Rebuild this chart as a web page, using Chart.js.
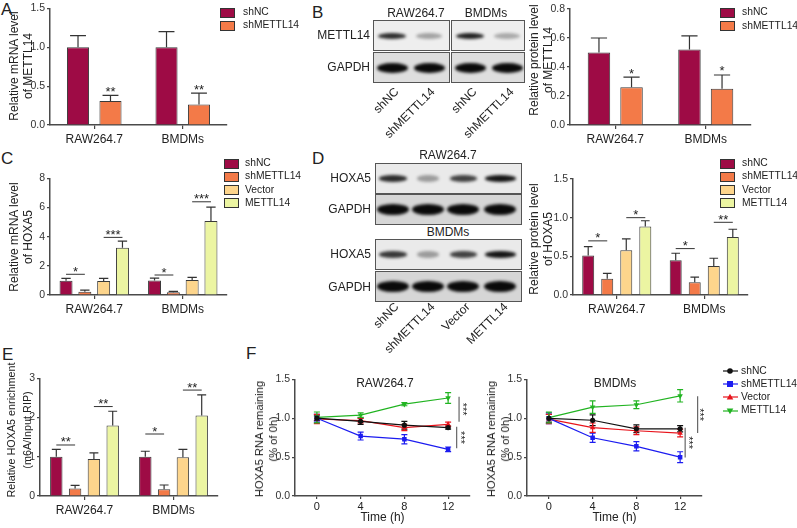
<!DOCTYPE html>
<html><head><meta charset="utf-8">
<script src="https://cdn.jsdelivr.net/npm/chart.js@4.4.1/dist/chart.umd.min.js"></script>
<style>
html,body{margin:0;padding:0;background:#fff;}
#root{position:relative;width:797px;height:528px;overflow:hidden;font-family:"Liberation Sans",Arial,sans-serif;color:#222;}
canvas{position:absolute;}
.t{position:absolute;white-space:nowrap;}
.letter{position:absolute;font-size:17px;line-height:17px;}
.ytitle{position:absolute;font-size:12px;line-height:14px;text-align:center;white-space:nowrap;transform:translate(-50%,-50%) rotate(-90deg);}
.leg{position:absolute;font-size:10.3px;line-height:12px;white-space:nowrap;}
.sq{position:absolute;width:13px;height:8px;border:1px solid #333;}
.box{position:absolute;border:1px solid #555;overflow:hidden;}
.band{position:absolute;border-radius:50%;filter:blur(1.4px);}
.rot{position:absolute;font-size:12px;line-height:13px;white-space:nowrap;transform-origin:0 0;transform:rotate(-45deg) translate(-100%,-50%);}
.lbl{position:absolute;font-size:12px;line-height:14px;white-space:nowrap;}
</style></head><body><div id="root"></div>
<script>
// ---------- DATA ----------
const categories = ['RAW264.7', 'BMDMs'];
const groupNames = ['shNC', 'shMETTL14', 'Vector', 'METTL14'];
// Panel A: relative mRNA level of METTL14
const aShNC = [1.0, 1.0];
const aShNCErr = [0.15, 0.20];
const aShMETTL14 = [0.31, 0.265];
const aShMETTL14Err = [0.07, 0.145];
// Panel B: relative protein level of METTL14
const bShNC = [0.50, 0.52];
const bShNCErr = [0.10, 0.095];
const bShMETTL14 = [0.26, 0.25];
const bShMETTL14Err = [0.07, 0.095];
// Panel C: relative mRNA level of HOXA5
const cShNC = [0.98, 1.0];
const cShNCErr = [0.16, 0.15];
const cShMETTL14 = [0.23, 0.18];
const cShMETTL14Err = [0.11, 0.07];
const cVector = [0.96, 1.03];
const cVectorErr = [0.18, 0.18];
const cMETTL14 = [3.24, 5.07];
const cMETTL14Err = [0.46, 0.95];
// Panel D: relative protein level of HOXA5
const dShNC = [0.51, 0.45];
const dShNCErr = [0.115, 0.09];
const dShMETTL14 = [0.21, 0.165];
const dShMETTL14Err = [0.07, 0.065];
const dVector = [0.58, 0.375];
const dVectorErr = [0.145, 0.10];
const dMETTL14 = [0.885, 0.75];
const dMETTL14Err = [0.075, 0.10];
// Panel E: relative HOXA5 enrichment
const eShNC = [1.0, 1.0];
const eShNCErr = [0.19, 0.14];
const eShMETTL14 = [0.19, 0.17];
const eShMETTL14Err = [0.08, 0.11];
const eVector = [0.94, 0.99];
const eVectorErr = [0.16, 0.20];
const eMETTL14 = [1.80, 2.05];
const eMETTL14Err = [0.36, 0.53];
// Panel F: HOXA5 RNA remaining
const timePoints = [0, 4, 8, 12];
const timeTicks = [0, 4, 8, 12];
const fRawShNC = [1.0, 0.96, 0.91, 0.88];
const fRawShNCErr = [0.03, 0.04, 0.05, 0.02];
const fRawShMETTL14 = [1.0, 0.77, 0.73, 0.60];
const fRawShMETTL14Err = [0.05, 0.05, 0.06, 0.03];
const fRawVector = [0.99, 0.97, 0.88, 0.92];
const fRawVectorErr = [0.06, 0.03, 0.04, 0.03];
const fRawMETTL14 = [1.01, 1.04, 1.18, 1.26];
const fRawMETTL14Err = [0.07, 0.03, 0.02, 0.07];
const fBmShNC = [1.0, 0.975, 0.865, 0.865];
const fBmShNCErr = [0.05, 0.07, 0.05, 0.04];
const fBmShMETTL14 = [1.0, 0.75, 0.64, 0.50];
const fBmShMETTL14Err = [0.07, 0.06, 0.06, 0.07];
const fBmVector = [0.99, 0.88, 0.84, 0.81];
const fBmVectorErr = [0.06, 0.06, 0.05, 0.05];
const fBmMETTL14 = [1.01, 1.145, 1.175, 1.29];
const fBmMETTL14Err = [0.07, 0.08, 0.05, 0.08];
// Western blot band intensities (0..1)
const bBlotMETTL14 = [0.85, 0.33, 0.9, 0.3];
const bBlotGAPDH = [1, 1, 1, 1];
const dBlotRawHOXA5 = [0.85, 0.35, 0.75, 0.95];
const dBlotBmHOXA5 = [0.8, 0.35, 0.75, 0.95];
const dBlotGAPDH = [1, 1, 1, 1];

// ---------- STYLE ----------
const FONT = '"Liberation Sans", Arial, sans-serif';
const barColors = ['#9e0b45', '#f37a48', '#fdd58c', '#ecf5a2'];
const lineColors = ['#111111', '#1c1cf0', '#e8141c', '#22b422'];
Chart.defaults.font.family = FONT;
const root = document.getElementById('root');

const errPlugin = {
  id: 'errbars',
  beforeDatasetsDraw(chart) { if (chart.config.type === 'line') drawErr(chart, true); },
  afterDatasetsDraw(chart) { if (chart.config.type === 'bar') drawErr(chart, false); }
};
function drawErr(chart, both) {
  const ctx = chart.ctx, ys = chart.scales.y;
  chart.data.datasets.forEach((ds, di) => {
    if (!ds.errors) return;
    const meta = chart.getDatasetMeta(di);
    meta.data.forEach((el, i) => {
      const raw = ds.data[i];
      const v = typeof raw === 'object' ? raw.y : raw;
      const e = ds.errors[i];
      const x = el.x;
      const yTop = ys.getPixelForValue(v + e);
      const yBot = both ? ys.getPixelForValue(v - e) : el.y;
      const cw = both ? 6 : el.width * 0.72;
      ctx.save();
      ctx.strokeStyle = ds.errColor || '#333';
      ctx.lineWidth = 1.2;
      ctx.beginPath();
      ctx.moveTo(x, yBot); ctx.lineTo(x, yTop);
      ctx.moveTo(x - cw / 2, yTop); ctx.lineTo(x + cw / 2, yTop);
      if (both) { ctx.moveTo(x - cw / 2, yBot); ctx.lineTo(x + cw / 2, yBot); }
      ctx.stroke();
      ctx.restore();
    });
  });
}
const sigPlugin = {
  id: 'sig',
  afterDraw(chart, args, opts) {
    const items = opts.items || [];
    const ctx = chart.ctx, ys = chart.scales.y, xs = chart.scales.x;
    ctx.save();
    items.forEach(it => {
      if (it.kind === 'br') {
        const x1 = chart.getDatasetMeta(it.a).data[it.cat].x;
        const x2 = chart.getDatasetMeta(it.b).data[it.cat].x;
        const y = ys.getPixelForValue(it.y);
        ctx.strokeStyle = '#333'; ctx.lineWidth = 1;
        ctx.beginPath(); ctx.moveTo(x1, y); ctx.lineTo(x2, y); ctx.stroke();
        ctx.font = '13px ' + FONT; ctx.fillStyle = '#222'; ctx.textAlign = 'center'; ctx.textBaseline = 'alphabetic';
        ctx.fillText(it.text, (x1 + x2) / 2, y + 1.5);
      } else if (it.kind === 'over') {
        const ds = chart.data.datasets[it.ds];
        const el = chart.getDatasetMeta(it.ds).data[it.cat];
        const y = ys.getPixelForValue(ds.data[it.cat] + ds.errors[it.cat]);
        ctx.font = '13px ' + FONT; ctx.fillStyle = '#222'; ctx.textAlign = 'center'; ctx.textBaseline = 'alphabetic';
        ctx.fillText(it.text, el.x, y + 0.5);
      } else if (it.kind === 'v') {
        const x = xs.getPixelForValue(it.x);
        const y1 = ys.getPixelForValue(it.y1), y2 = ys.getPixelForValue(it.y2);
        ctx.strokeStyle = '#666'; ctx.lineWidth = 1.2;
        ctx.beginPath(); ctx.moveTo(x, y1); ctx.lineTo(x, y2); ctx.stroke();
        const tx = xs.getPixelForValue(it.tx);
        ctx.translate(tx, (y1 + y2) / 2); ctx.rotate(Math.PI / 2);
        ctx.font = '11px ' + FONT; ctx.fillStyle = '#222'; ctx.textAlign = 'center'; ctx.textBaseline = 'alphabetic';
        ctx.fillText(it.text, 0, 6.3);
        ctx.setTransform(1, 0, 0, 1, 0, 0);
      }
    });
    ctx.restore();
  }
};

function mkCanvas(left, top, w, h) {
  const cv = document.createElement('canvas');
  cv.width = w; cv.height = h;
  cv.style.left = left + 'px'; cv.style.top = top + 'px';
  cv.style.width = w + 'px'; cv.style.height = h + 'px';
  root.appendChild(cv);
  return cv;
}
function axisY(o) {
  return {
    min: 0, max: o.yMax,
    ticks: { stepSize: o.yStep, font: { size: 10.5, family: FONT }, color: '#333', padding: 2, callback: v => Number(v).toFixed(o.dec) },
    grid: { drawOnChartArea: false, tickLength: 3, color: '#444', lineWidth: 1.2 },
    border: { color: '#4a4a4a', width: 1.5 },
    afterFit: s => { s.width = o.yW; }
  };
}
function barChart(o) {
  const cv = mkCanvas(o.left, o.top, o.w, o.h);
  return new Chart(cv, {
    type: 'bar',
    data: {
      labels: categories,
      datasets: o.series.map((s, i) => ({
        label: groupNames[i], data: s.data, errors: s.err,
        backgroundColor: barColors[i], borderColor: '#3a3a3a', borderWidth: 1,
        categoryPercentage: o.catPct, barPercentage: o.barPct
      }))
    },
    options: {
      responsive: false, animation: false, devicePixelRatio: 1,
      layout: { padding: { top: o.padTop, right: o.padRight, left: 0, bottom: 0 } },
      plugins: { legend: { display: false }, tooltip: { enabled: false }, sig: { items: o.sig } },
      scales: {
        x: {
          type: 'category', offset: true,
          grid: { offset: false, drawOnChartArea: false, tickLength: 4, color: '#444', lineWidth: 1.2 },
          border: { color: '#4a4a4a', width: 1.5 },
          ticks: { font: { size: 12, family: FONT }, color: '#222', padding: 3, maxRotation: 0 },
          afterFit: s => { s.height = o.xH; }
        },
        y: axisY(o)
      }
    },
    plugins: [errPlugin, sigPlugin]
  });
}
const pointStyles = ['circle', 'rect', 'triangle', 'triangle'];
const pointRots = [0, 0, 0, 180];
function lineChart(o) {
  const cv = mkCanvas(o.left, o.top, o.w, o.h);
  return new Chart(cv, {
    type: 'line',
    data: {
      datasets: o.series.map((s, i) => ({
        label: groupNames[i],
        data: timePoints.map((t, k) => ({ x: t, y: s.data[k] })),
        errors: s.err, errColor: lineColors[i],
        borderColor: lineColors[i], backgroundColor: lineColors[i], borderWidth: 1.2,
        pointStyle: pointStyles[i], pointRotation: pointRots[i], pointRadius: i === 0 ? 2.6 : 3.2,
        pointBorderWidth: 0, tension: 0, fill: false
      }))
    },
    options: {
      responsive: false, animation: false, devicePixelRatio: 1,
      layout: { padding: { top: o.padTop, right: o.padRight, left: 0, bottom: 0 } },
      plugins: { legend: { display: false }, tooltip: { enabled: false }, sig: { items: o.sig } },
      scales: {
        x: {
          type: 'linear', min: -2, max: 14,
          afterBuildTicks: s => { s.ticks = timeTicks.map(v => ({ value: v })); },
          grid: { drawOnChartArea: false, tickLength: 3, color: '#444', lineWidth: 1.2 },
          border: { color: '#4a4a4a', width: 1.5 },
          ticks: { font: { size: 11, family: FONT }, color: '#222', padding: 1, maxRotation: 0 },
          afterFit: s => { s.height = o.xH; }
        },
        y: axisY(o)
      }
    },
    plugins: [errPlugin, sigPlugin]
  });
}

// ---------- CHARTS ----------
barChart({ left: 20, top: 0, w: 210, h: 150, padTop: 8, padRight: 3, yW: 30, xH: 25, yMax: 1.5, yStep: 0.5, dec: 1,
  catPct: 0.734, barPct: 0.68,
  series: [{ data: aShNC, err: aShNCErr }, { data: aShMETTL14, err: aShMETTL14Err }],
  sig: [{ kind: 'over', ds: 1, cat: 0, text: '**' }, { kind: 'over', ds: 1, cat: 1, text: '**' }] });
barChart({ left: 540, top: 0, w: 215, h: 150, padTop: 9, padRight: 4, yW: 30, xH: 25, yMax: 0.8, yStep: 0.2, dec: 1,
  catPct: 0.72, barPct: 0.69,
  series: [{ data: bShNC, err: bShNCErr }, { data: bShMETTL14, err: bShMETTL14Err }],
  sig: [{ kind: 'over', ds: 1, cat: 0, text: '*' }, { kind: 'over', ds: 1, cat: 1, text: '*' }] });
barChart({ left: 20, top: 170, w: 210, h: 150, padTop: 8, padRight: 3, yW: 30, xH: 25, yMax: 8, yStep: 2, dec: 0,
  catPct: 0.85, barPct: 0.69,
  series: [{ data: cShNC, err: cShNCErr }, { data: cShMETTL14, err: cShMETTL14Err }, { data: cVector, err: cVectorErr }, { data: cMETTL14, err: cMETTL14Err }],
  sig: [{ kind: 'br', a: 0, b: 1, cat: 0, y: 1.42, text: '*' }, { kind: 'br', a: 2, b: 3, cat: 0, y: 3.95, text: '***' },
        { kind: 'br', a: 0, b: 1, cat: 1, y: 1.37, text: '*' }, { kind: 'br', a: 2, b: 3, cat: 1, y: 6.39, text: '***' }] });
barChart({ left: 543, top: 170, w: 209, h: 150, padTop: 9, padRight: 4, yW: 30, xH: 25, yMax: 1.5, yStep: 0.5, dec: 1,
  catPct: 0.87, barPct: 0.63,
  series: [{ data: dShNC, err: dShNCErr }, { data: dShMETTL14, err: dShMETTL14Err }, { data: dVector, err: dVectorErr }, { data: dMETTL14, err: dMETTL14Err }],
  sig: [{ kind: 'br', a: 0, b: 1, cat: 0, y: 0.70, text: '*' }, { kind: 'br', a: 2, b: 3, cat: 0, y: 1.0, text: '*' },
        { kind: 'br', a: 0, b: 1, cat: 1, y: 0.60, text: '*' }, { kind: 'br', a: 2, b: 3, cat: 1, y: 0.94, text: '**' }] });
barChart({ left: 10, top: 370, w: 212, h: 151, padTop: 8, padRight: 4, yW: 30, xH: 25, yMax: 3, yStep: 1, dec: 0,
  catPct: 0.845, barPct: 0.66,
  series: [{ data: eShNC, err: eShNCErr }, { data: eShMETTL14, err: eShMETTL14Err }, { data: eVector, err: eVectorErr }, { data: eMETTL14, err: eMETTL14Err }],
  sig: [{ kind: 'br', a: 0, b: 1, cat: 0, y: 1.30, text: '**' }, { kind: 'br', a: 2, b: 3, cat: 0, y: 2.28, text: '**' },
        { kind: 'br', a: 0, b: 1, cat: 1, y: 1.58, text: '*' }, { kind: 'br', a: 2, b: 3, cat: 1, y: 2.70, text: '**' }] });
lineChart({ left: 265, top: 371, w: 209, h: 150, padTop: 8, padRight: 4, yW: 30, xH: 25, yMax: 1.5, yStep: 0.5, dec: 1,
  series: [{ data: fRawShNC, err: fRawShNCErr }, { data: fRawShMETTL14, err: fRawShMETTL14Err }, { data: fRawVector, err: fRawVectorErr }, { data: fRawMETTL14, err: fRawMETTL14Err }],
  sig: [{ kind: 'v', x: 13.0, y1: 1.276, y2: 0.955, tx: 13.6, text: '***' }, { kind: 'v', x: 12.78, y1: 0.89, y2: 0.613, tx: 13.35, text: '***' }] });
lineChart({ left: 497, top: 371, w: 209, h: 150, padTop: 8.5, padRight: 4, yW: 30, xH: 25, yMax: 1.5, yStep: 0.5, dec: 1,
  series: [{ data: fBmShNC, err: fBmShNCErr }, { data: fBmShMETTL14, err: fBmShMETTL14Err }, { data: fBmVector, err: fBmVectorErr }, { data: fBmMETTL14, err: fBmMETTL14Err }],
  sig: [{ kind: 'v', x: 13.6, y1: 1.285, y2: 0.81, tx: 14.05, text: '***' }, { kind: 'v', x: 12.46, y1: 0.88, y2: 0.495, tx: 13.0, text: '***' }] });

// ---------- HTML TEXT / DECOR ----------
function el(cls, html, css) {
  const d = document.createElement('div');
  d.className = cls; d.innerHTML = html;
  Object.assign(d.style, css);
  root.appendChild(d);
  return d;
}
function letter(ch, x, y) { el('letter', ch, { left: x + 'px', top: y + 'px' }); }
function ytitle(lines, cx, cy, lh, fs) { el('ytitle', lines.join('<br>'), { left: cx + 'px', top: cy + 'px', lineHeight: (lh || 14) + 'px', fontSize: (fs || 12) + 'px' }); }
function centered(text, cx, cy, size) {
  el('lbl', text, { left: cx + 'px', top: cy + 'px', transform: 'translate(-50%,-50%)', fontSize: (size || 12) + 'px' });
}
function rightLabel(text, rx, cy) {
  el('lbl', text, { left: rx + 'px', top: cy + 'px', transform: 'translate(-100%,-50%)' });
}
function rotLabel(text, ex, ey) { el('rot', text, { left: ex + 'px', top: ey + 'px' }); }
function sqLegend(sqX, textX, ys, n) {
  for (let i = 0; i < n; i++) {
    el('sq', '', { left: sqX + 'px', top: (ys[i] - 5) + 'px', background: barColors[i] });
    el('leg', groupNames[i], { left: textX + 'px', top: (ys[i] - 6.5) + 'px' });
  }
}
function blotRow(left, top, w, h, bg, lanes, intens, bw, bh) {
  const b = el('box', '', { left: left + 'px', top: top + 'px', width: w + 'px', height: h + 'px', background: bg });
  lanes.forEach((cx, i) => {
    const d = document.createElement('div');
    d.className = 'band';
    const ww = Array.isArray(bw) ? bw[i] : bw;
    Object.assign(d.style, { left: (cx - left - ww / 2) + 'px', top: (h / 2 - bh / 2) + 'px', width: ww + 'px', height: bh + 'px', background: 'rgba(10,10,10,' + intens[i] + ')' });
    b.appendChild(d);
  });
}

letter('A', 1, 1); letter('B', 312, 4); letter('C', 1, 150); letter('D', 312, 150); letter('E', 2, 346); letter('F', 246, 345);

ytitle(['Relative mRNA level', 'of METTL14'], 20.5, 66);
ytitle(['Relative protein level', 'of METTL14'], 540.5, 60);
ytitle(['Relative mRNA level', 'of HOXA5'], 20.5, 237);
ytitle(['Relative protein level', 'of HOXA5'], 540.5, 239);
ytitle(['Relative HOXA5 enrichment', '(m6A/Input RIP)'], 19, 430, 16, 10.8);
ytitle(['HOXA5 RNA remaining', '(% of 0h)'], 266, 438.5, 14, 11.2);
ytitle(['HOXA5 RNA remaining', '(% of 0h)'], 498, 438.5, 14, 11.2);

sqLegend(220, 243, [12.5, 25.5], 2);
sqLegend(720, 742, [12.5, 26], 2);
sqLegend(224, 245, [163.5, 176.5, 190, 203], 4);
sqLegend(720, 742, [163.5, 176.5, 190, 203], 4);

// F titles and x-axis titles
centered('RAW264.7', 385, 383);
centered('BMDMs', 615, 383);
centered('Time (h)', 382.5, 517);
centered('Time (h)', 614.5, 517);

// F legend
const svgMarkers = [
  '<circle cx="7" cy="5" r="2.8" fill="#111"/>',
  '<rect x="4" y="2" width="6" height="6" fill="#1c1cf0"/>',
  '<polygon points="7,1.8 10.3,7.6 3.7,7.6" fill="#e8141c"/>',
  '<polygon points="7,8.2 10.3,2.4 3.7,2.4" fill="#22b422"/>'
];
[371, 384, 397.3, 410.7].forEach((y, i) => {
  el('t', '<svg width="15" height="10"><line x1="0" y1="5" x2="15" y2="5" stroke="' + lineColors[i] + '" stroke-width="1.2"/>' + svgMarkers[i] + '</svg>',
    { left: '723px', top: (y - 5) + 'px', lineHeight: '0' });
  el('leg', groupNames[i], { left: '741px', top: (y - 6.5) + 'px' });
});

// Panel B blots
centered('RAW264.7', 416, 13);
centered('BMDMs', 486, 13);
rightLabel('METTL14', 370, 35);
rightLabel('GAPDH', 370, 67);
blotRow(373, 20, 75, 29, '#eeeeee', [391, 428], bBlotMETTL14.slice(0, 2), [28, 26], 6);
blotRow(451, 20, 72, 29, '#eeeeee', [469, 506], bBlotMETTL14.slice(2, 4), [28, 26], 6);
blotRow(373, 52, 75, 29, '#dedede', [391, 428], bBlotGAPDH.slice(0, 2), 31, 10);
blotRow(451, 52, 72, 29, '#dedede', [469, 506], bBlotGAPDH.slice(2, 4), 31, 10);
rotLabel('shNC', 397, 90); rotLabel('shMETTL14', 433, 90);
rotLabel('shNC', 475, 90); rotLabel('shMETTL14', 512, 90);

// Panel D blots
const dLanes = [392, 427, 462, 499];
centered('RAW264.7', 448, 155);
centered('BMDMs', 448, 232);
rightLabel('HOXA5', 371, 177.5);
rightLabel('GAPDH', 371, 209);
rightLabel('HOXA5', 371, 254);
rightLabel('GAPDH', 371, 286.5);
blotRow(375, 163, 145, 29, '#eaeaea', dLanes, dBlotRawHOXA5, [28, 22, 27, 31], 6.5);
blotRow(375, 194, 145, 29, '#d6d6d6', dLanes, dBlotGAPDH, 32, 11);
blotRow(375, 239, 145, 29, '#eaeaea', dLanes, dBlotBmHOXA5, [28, 22, 27, 31], 6.5);
blotRow(375, 271, 145, 29, '#d6d6d6', dLanes, dBlotGAPDH, 32, 11);
rotLabel('shNC', 397, 305); rotLabel('shMETTL14', 433, 305);
rotLabel('Vector', 468, 305); rotLabel('METTL14', 506, 305);
</script></body></html>
